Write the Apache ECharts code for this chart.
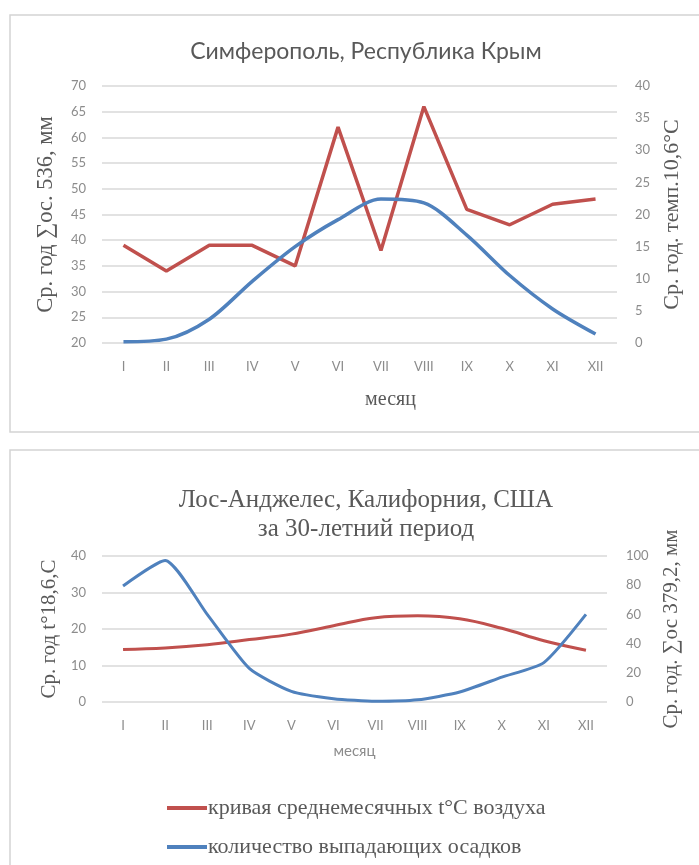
<!DOCTYPE html>
<html>
<head>
<meta charset="utf-8">
<script src="https://cdn.jsdelivr.net/npm/echarts@6/dist/echarts.min.js"></script>
<style>
  html, body { margin: 0; padding: 0; background: #ffffff; }
  #chart { width: 699px; height: 865px; }
</style>
</head>
<body>
<div id="chart"></div>
<script>
// Months (Roman numerals)
const months = ['I', 'II', 'III', 'IV', 'V', 'VI', 'VII', 'VIII', 'IX', 'X', 'XI', 'XII'];

// Simferopol: monthly precipitation, mm (left axis) and mean temperature, °C (right axis)
const simfPrecip = [39, 34, 39, 39, 35, 62, 38, 66, 46, 43, 47, 48];
const simfTemp = [0.2, 0.6, 3.7, 9.6, 15.0, 19.2, 22.4, 21.8, 16.8, 10.5, 5.3, 1.4];

// Los Angeles: mean temperature, °C (left axis) and precipitation, mm (right axis)
const laTemp = [14.4, 14.8, 15.7, 17.1, 18.6, 20.9, 23.1, 23.6, 22.8, 20.2, 16.8, 14.2];
const laPrecip = [79.5, 97, 60, 23, 7.3, 2.3, 0.5, 1.5, 6.8, 17, 27, 60];

// Axis names
const simfLeftName = 'Ср. год ∑ос. 536, мм';
const simfRightName = 'Ср. год. темп.10,6°С';
const laLeftName = 'Ср. год t°18,6,С';
const laRightName = 'Ср. год. ∑ос 379,2, мм';

const RED = '#c0504d';
const BLUE = '#4f81bd';
const GRID = '#d9d9d9';
const LABEL = '#8c8c8c';
const NAME = '#595959';
const SANS = "Lato, 'Noto Sans', sans-serif";
const SERIF = "'Liberation Serif', 'DejaVu Serif', serif";

const legendTemp = 'кривая среднемесячных t°С воздуха';
const legendPrecip = 'количество выпадающих осадков';

const chart = echarts.init(document.getElementById('chart'), null, { renderer: 'canvas' });

const yLabel = { color: LABEL, fontFamily: SANS, fontSize: 13 };
const xLabel = { color: LABEL, fontFamily: SANS, fontSize: 13 };

chart.setOption({
  animation: false,
  backgroundColor: '#ffffff',
  graphic: [
    { type: 'rect', shape: { x: 10, y: 15, width: 700, height: 417 },
      style: { fill: 'none', stroke: '#d4d4d4', lineWidth: 1.5 }, z: -1 },
    { type: 'rect', shape: { x: 10, y: 450, width: 700, height: 430 },
      style: { fill: 'none', stroke: '#d4d4d4', lineWidth: 1.5 }, z: -1 }
  ],
  title: [
    { text: 'Симферополь, Республика Крым', left: 361, top: 35, textAlign: 'center',
      textStyle: { fontFamily: SANS, fontSize: 23, fontWeight: 'normal', color: NAME } },
    { text: 'Лос-Анджелес, Калифорния, США\nза 30-летний период', left: 361, top: 481, textAlign: 'center',
      textStyle: { fontFamily: SERIF, fontSize: 25, fontWeight: 'normal', color: NAME, lineHeight: 29 } }
  ],
  legend: {
    data: [legendTemp, legendPrecip],
    orient: 'vertical',
    left: 162,
    top: 792,
    itemGap: 17,
    itemWidth: 40,
    itemHeight: 4,
    icon: 'rect',
    textStyle: { fontFamily: SERIF, fontSize: 22, color: NAME, padding: [0, 0, 0, -4] }
  },
  grid: [
    { left: 102, right: 82, top: 86, height: 257, containLabel: false },
    { left: 102, right: 92, top: 556, height: 146, containLabel: false }
  ],
  xAxis: [
    { type: 'category', gridIndex: 0, data: months, boundaryGap: true,
      axisLine: { show: false }, axisTick: { show: false },
      axisLabel: Object.assign({ margin: 17 }, xLabel),
      name: 'месяц', nameLocation: 'middle', nameGap: 47,
      nameTextStyle: { fontFamily: SERIF, fontSize: 20, color: NAME, padding: [0, 0, 0, 62] } },
    { type: 'category', gridIndex: 1, data: months, boundaryGap: true,
      axisLine: { show: false }, axisTick: { show: false },
      axisLabel: Object.assign({ margin: 17 }, xLabel),
      name: 'месяц', nameLocation: 'middle', nameGap: 42,
      nameTextStyle: { fontFamily: SANS, fontSize: 15, color: LABEL } }
  ],
  yAxis: [
    { type: 'value', gridIndex: 0, min: 20, max: 70, interval: 5, position: 'left',
      axisLine: { show: false }, axisTick: { show: false },
      axisLabel: Object.assign({ margin: 16 }, yLabel),
      splitLine: { lineStyle: { color: GRID, width: 1.5 } },
      name: simfLeftName, nameLocation: 'middle', nameRotate: 90, nameGap: 44,
      nameTextStyle: { fontFamily: SERIF, fontSize: 22.5, color: NAME } },
    { type: 'value', gridIndex: 0, min: 0, max: 40, interval: 5, position: 'right',
      axisLine: { show: false }, axisTick: { show: false },
      axisLabel: Object.assign({ margin: 18 }, yLabel),
      splitLine: { show: false },
      name: simfRightName, nameLocation: 'middle', nameRotate: 90, nameGap: 44,
      nameTextStyle: { fontFamily: SERIF, fontSize: 22, color: NAME } },
    { type: 'value', gridIndex: 1, min: 0, max: 40, interval: 10, position: 'left',
      axisLine: { show: false }, axisTick: { show: false },
      axisLabel: Object.assign({ margin: 16 }, yLabel),
      splitLine: { lineStyle: { color: GRID, width: 1.5 } },
      name: laLeftName, nameLocation: 'middle', nameRotate: 90, nameGap: 42,
      nameTextStyle: { fontFamily: SERIF, fontSize: 21, color: NAME } },
    { type: 'value', gridIndex: 1, min: 0, max: 100, interval: 20, position: 'right',
      axisLine: { show: false }, axisTick: { show: false },
      axisLabel: Object.assign({ margin: 19 }, yLabel),
      splitLine: { show: false },
      name: laRightName, nameLocation: 'middle', nameRotate: 90, nameGap: 54,
      nameTextStyle: { fontFamily: SERIF, fontSize: 21, color: NAME } }
  ],
  series: [
    { name: 'осадки, мм', type: 'line', xAxisIndex: 0, yAxisIndex: 0, data: simfPrecip,
      showSymbol: false, lineStyle: { color: RED, width: 3.5 }, itemStyle: { color: RED } },
    { name: 'температура, °С', type: 'line', xAxisIndex: 0, yAxisIndex: 1, data: simfTemp,
      smooth: 0.3, showSymbol: false, lineStyle: { color: BLUE, width: 3.5 }, itemStyle: { color: BLUE } },
    { name: legendTemp, type: 'line', xAxisIndex: 1, yAxisIndex: 2, data: laTemp,
      smooth: 0.4, showSymbol: false, lineStyle: { color: RED, width: 3 }, itemStyle: { color: RED } },
    { name: legendPrecip, type: 'line', xAxisIndex: 1, yAxisIndex: 3, data: laPrecip,
      smooth: 0.2, showSymbol: false, lineStyle: { color: BLUE, width: 3 }, itemStyle: { color: BLUE } }
  ]
});
</script>
</body>
</html>
